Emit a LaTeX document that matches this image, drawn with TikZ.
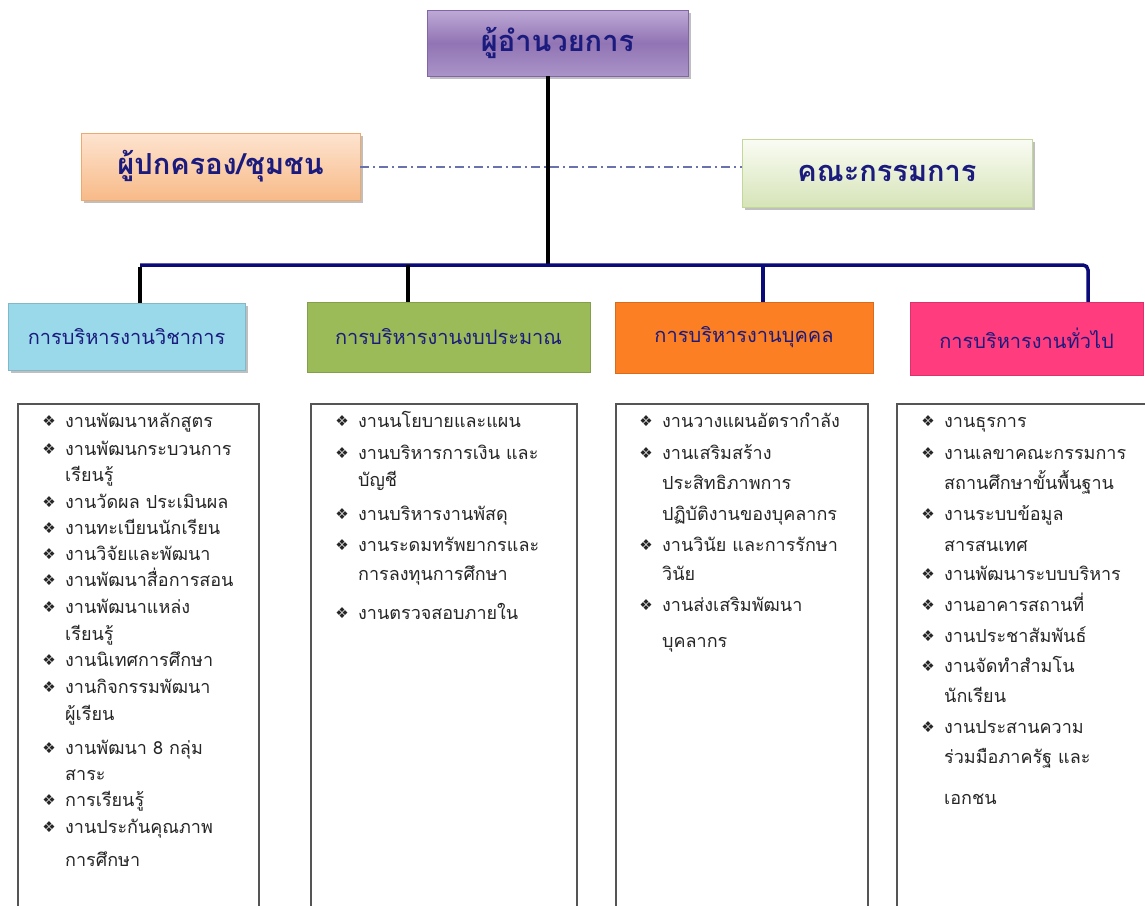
\documentclass[tikz,border=0pt]{standalone}
\usepackage{fontspec}
\newfontfamily\thaifont[Script=Thai]{Loma}
\newfontfamily\symfont{DejaVu Sans}
\usetikzlibrary{shadows}
\definecolor{navytxt}{HTML}{1B1B7E}
\definecolor{barnavy}{HTML}{0A0A78}
\definecolor{dashcol}{HTML}{6A72AE}
\definecolor{boxgray}{HTML}{555555}
\definecolor{itemcol}{HTML}{262626}
\definecolor{hblue}{HTML}{99D9EA}
\definecolor{hgreen}{HTML}{9BBB59}
\definecolor{horange}{HTML}{FD7F23}
\definecolor{hpink}{HTML}{FF3C7D}
\begin{document}
\begin{tikzpicture}[x=1pt,y=-1pt,
  softshadow/.style={drop shadow={shadow xshift=3pt,shadow yshift=-3pt,fill=black!45,opacity=.55}},
  topbox/.style={line width=0.8pt,softshadow,inner sep=0pt,
     font=\thaifont\bfseries\fontsize{29}{34}\selectfont,text=navytxt},
  hdr/.style={fill=#1,draw=#1!85!black,line width=0.5pt,inner sep=0pt,
     font=\thaifont\fontsize{20}{24}\selectfont,text=navytxt},
  listbox/.style={draw=boxgray,line width=1.6pt,anchor=north west,inner sep=0pt},
  item/.style={anchor=base west,inner sep=0pt,font=\thaifont\fontsize{18}{22}\selectfont,text=itemcol},
  bul/.style={anchor=base east,inner sep=0pt,font=\symfont\fontsize{15}{17}\selectfont,text=itemcol},
  trunk/.style={line width=3.5pt}
]
\useasboundingbox (0,0) rectangle (1145,905);
\clip (0,0) rectangle (1145,905);
\fill[white] (0,0) rectangle (1145,905);

% top boxes
\node[topbox,draw={rgb,255:red,130;green,100;blue,168},top color={rgb,255:red,190;green,170;blue,214},bottom color={rgb,255:red,170;green,148;blue,200},
      middle color={rgb,255:red,145;green,116;blue,180},minimum width=261pt,minimum height=66pt] (dir) at (557.5,43) {ผู้อำนวยการ};
\node[topbox,draw={rgb,255:red,238;green,170;blue,110},top color={rgb,255:red,253;green,228;blue,208},bottom color={rgb,255:red,248;green,186;blue,136},
      minimum width=279pt,minimum height=67pt] (par) at (220.5,166.5) {ผู้ปกครอง/ชุมชน};
\node[topbox,draw={rgb,255:red,196;green,215;blue,155},top color={rgb,255:red,250;green,252;blue,244},bottom color={rgb,255:red,214;green,228;blue,184},
      minimum width=290pt,minimum height=68pt] (com) at (887,173) {คณะกรรมการ};

\draw[dashcol,line width=1.3pt,dash pattern=on 9pt off 4pt on 2pt off 4pt] (par.east |- 0,167) -- (com.west |- 0,167);

% headers
\node[hdr=hblue,softshadow,minimum width=237pt,minimum height=67pt] (h1) at (126.5,336.5) {การบริหารงานวิชาการ};
\node[hdr=hgreen,minimum width=283pt,minimum height=70pt] (h2) at (448.5,337) {การบริหารงานงบประมาณ};
\node[hdr=horange,minimum width=258pt,minimum height=71pt] (h3) at (744,337.5) {การบริหารงานบุคคล};
\node[hdr=hpink,minimum width=233pt,minimum height=73pt] (h4) at (1026.5,338.5) {การบริหารงานทั่วไป};

% connectors
\coordinate (v0) at (548,265);
\coordinate (t1) at (140,265);
\coordinate (t2) at (408,265);
\coordinate (t3) at (763,265);
\coordinate (t4) at (1088,265);
\draw[trunk,black] (v0 |- dir.south) -- (v0);
\draw[trunk,barnavy,rounded corners=5pt] (t1) -- (t4) -- (t4 |- h4.north);
\draw[trunk,black] ([yshift=-1.5pt]t1) -- (t1 |- h1.north);
\draw[trunk,black] (t2) -- (t2 |- h2.north);
\draw[trunk,barnavy] (t3) -- (t3 |- h3.north);

% list boxes
\node[listbox,minimum width=241pt,minimum height=540pt] (b1) at (17,403) {};
\node[listbox,minimum width=266pt,minimum height=540pt] (b2) at (310,403) {};
\node[listbox,minimum width=252pt,minimum height=540pt] (b3) at (615,403) {};
\node[listbox,minimum width=270pt,minimum height=540pt] (b4) at (896,403) {};

% items
\foreach \x/\y/\b/\t [count=\i] in {
  65/421/1/งานพัฒนาหลักสูตร,
  65/449/1/งานพัฒนกระบวนการ,
  65/475/0/เรียนรู้,
  65/502/1/งานวัดผล ประเมินผล,
  65/528/1/งานทะเบียนนักเรียน,
  65/554/1/งานวิจัยและพัฒนา,
  65/580/1/งานพัฒนาสื่อการสอน,
  65/607/1/งานพัฒนาแหล่ง,
  65/634/0/เรียนรู้,
  65/660/1/งานนิเทศการศึกษา,
  65/687/1/งานกิจกรรมพัฒนา,
  65/714/0/ผู้เรียน,
  65/748/1/งานพัฒนา 8 กลุ่ม,
  65/774/0/สาระ,
  65/800/1/การเรียนรู้,
  65/827/1/งานประกันคุณภาพ,
  65/860/0/การศึกษา,
  358/421/1/งานนโยบายและแผน,
  358/453/1/งานบริหารการเงิน และ,
  358/480/0/บัญชี,
  358/514/1/งานบริหารงานพัสดุ,
  358/545/1/งานระดมทรัพยากรและ,
  358/574/0/การลงทุนการศึกษา,
  358/613/1/งานตรวจสอบภายใน,
  662/421/1/งานวางแผนอัตรากำลัง,
  662/453/1/งานเสริมสร้าง,
  662/483/0/ประสิทธิภาพการ,
  662/514/0/ปฏิบัติงานของบุคลากร,
  662/545/1/งานวินัย และการรักษา,
  662/574/0/วินัย,
  662/605/1/งานส่งเสริมพัฒนา,
  662/641/0/บุคลากร,
  944/421/1/งานธุรการ,
  944/453/1/งานเลขาคณะกรรมการ,
  944/483/0/สถานศึกษาขั้นพื้นฐาน,
  944/514/1/งานระบบข้อมูล,
  944/545/0/สารสนเทศ,
  944/574/1/งานพัฒนาระบบบริหาร,
  944/605/1/งานอาคารสถานที่,
  944/636/1/งานประชาสัมพันธ์,
  944/666/1/งานจัดทำสำมโน,
  944/696/0/นักเรียน,
  944/727/1/งานประสานความ,
  944/757/0/ร่วมมือภาครัฐ และ,
  944/798/0/เอกชน}{
  \node[item] (it\i) at (\x,\y+6) {\t};
  \ifnum\b=1 \node[bul] (bu\i) at (\x-9,\y+5) {❖}; \fi
}
\end{tikzpicture}
\end{document}
